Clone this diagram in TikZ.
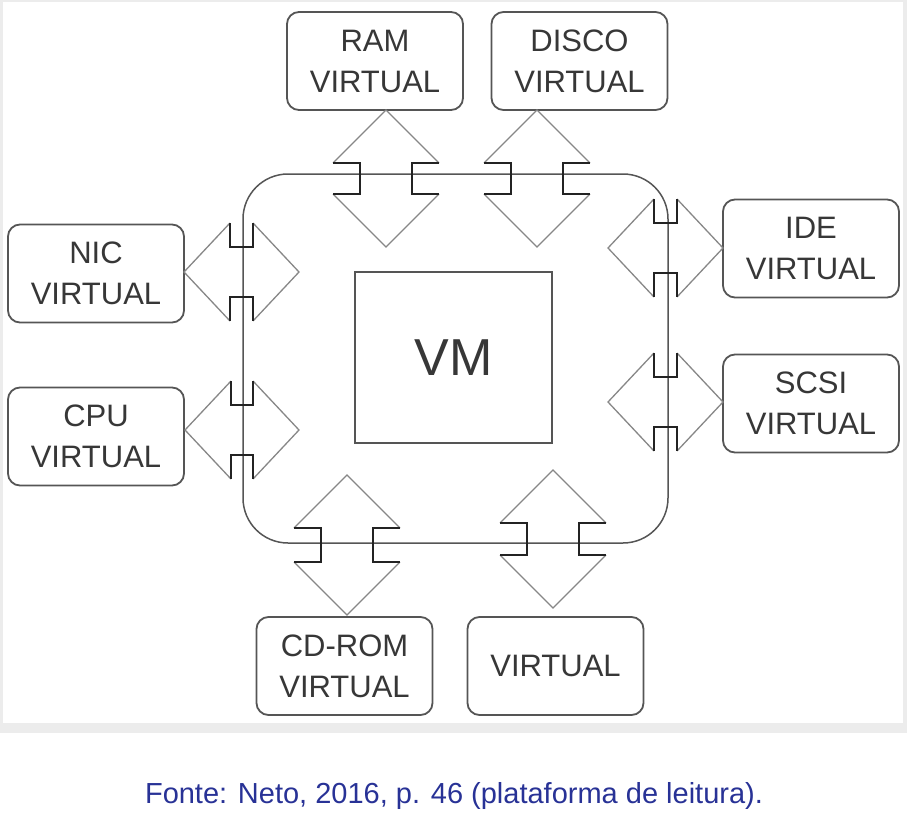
\documentclass[tikz,border=0pt]{standalone}
\usepackage{fontspec}
\setmainfont{Liberation Sans}
\usetikzlibrary{calc}

\definecolor{boxgray}{RGB}{85,85,85}
\definecolor{txtgray}{RGB}{55,55,55}
\definecolor{headgray}{RGB}{135,135,135}
\definecolor{notchgray}{RGB}{35,35,35}
\definecolor{capblue}{RGB}{40,50,150}
\definecolor{framegray}{RGB}{236,236,236}

\tikzset{
  devbox/.style={draw=boxgray, line width=1.8pt, rounded corners=12pt,
    minimum width=176pt, minimum height=98pt, inner sep=0pt, align=center,
    text=txtgray, font=\fontsize{31}{41}\selectfont},
  headline/.style={draw=headgray, line width=1.3pt},
  notchline/.style={draw=notchgray, line width=1.8pt},
  busline/.style={draw=boxgray, line width=1.5pt, rounded corners=45pt}
}

% vertical double arrow: top tip #1, bottom tip #2
\newcommand{\vlink}[2]{%
  \draw[headline] ($(#1)+(-53,53)$) -- (#1) -- ($(#1)+(53,53)$);
  \draw[headline] ($(#2)+(-53,-53)$) -- (#2) -- ($(#2)+(53,-53)$);
  \draw[notchline] ($(#1)+(-53,53)$) -- ($(#1)+(-26,53)$) -- ($(#2)+(-26,-53)$) -- ($(#2)+(-53,-53)$);
  \draw[notchline] ($(#1)+(53,53)$) -- ($(#1)+(26,53)$) -- ($(#2)+(26,-53)$) -- ($(#2)+(53,-53)$);
}

% horizontal double arrow: left tip #1, right tip #2
\newcommand{\hlink}[2]{%
  \draw[headline] ($(#1)+(46,-49)$) -- (#1) -- ($(#1)+(46,49)$);
  \draw[headline] ($(#2)+(-46,-49)$) -- (#2) -- ($(#2)+(-46,49)$);
  \draw[notchline] ($(#1)+(46,-49)$) -- ($(#1)+(46,-25)$) -- ($(#2)+(-46,-25)$) -- ($(#2)+(-46,-49)$);
  \draw[notchline] ($(#1)+(46,49)$) -- ($(#1)+(46,25)$) -- ($(#2)+(-46,25)$) -- ($(#2)+(-46,49)$);
}

\begin{document}
\begin{tikzpicture}[x=1pt,y=-1pt]
    \useasboundingbox (0,0) rectangle (908,816);
    \fill[framegray] (0,0) rectangle (907,733);
    \fill[white] (3,2) rectangle (903,723);

    % bus round the VM
    \draw[busline] (243,174) rectangle (668,543);

    \node[draw=boxgray, line width=1.5pt, minimum width=197pt, minimum height=171pt,
      inner sep=0pt, text=txtgray, font=\fontsize{52}{60}\selectfont] (vm) at (453.5,357.5) {VM};

    % devices
    \node[devbox] (ram) at (375,61) {RAM\\VIRTUAL};
    \node[devbox] (disco) at (579.5,61) {DISCO\\VIRTUAL};
    \node[devbox] (nic) at (96,273.5) {NIC\\VIRTUAL};
    \node[devbox] (cpu) at (96,436.5) {CPU\\VIRTUAL};
    \node[devbox] (ide) at (811,248.5) {IDE\\VIRTUAL};
    \node[devbox] (scsi) at (811,403.5) {SCSI\\VIRTUAL};
    \node[devbox] (cdrom) at (344.5,666) {CD-ROM\\VIRTUAL};
    \node[devbox] (virt) at (555.5,666) {VIRTUAL};

    % arrow tips
    \coordinate (ramT) at (386,110);
    \coordinate (ramB) at (386,247);
    \coordinate (discoT) at (537,110);
    \coordinate (discoB) at (537,247);
    \coordinate (nicL) at (184,272);
    \coordinate (nicR) at (299,272);
    \coordinate (cpuL) at (185,430);
    \coordinate (cpuR) at (299,430);
    \coordinate (ideL) at (608,248);
    \coordinate (ideR) at (723,248);
    \coordinate (scsiL) at (608,402);
    \coordinate (scsiR) at (723,402);
    \coordinate (cdromT) at (347,475);
    \coordinate (cdromB) at (347,615);
    \coordinate (virtT) at (553,470);
    \coordinate (virtB) at (553,608);

    \vlink{ramT}{ramB}
    \vlink{discoT}{discoB}
    \hlink{nicL}{nicR}
    \hlink{cpuL}{cpuR}
    \hlink{ideL}{ideR}
    \hlink{scsiL}{scsiR}
    \vlink{cdromT}{cdromB}
    \vlink{virtT}{virtB}

    % source line
    \node[anchor=base, text=capblue, font=\fontsize{29}{35}\selectfont] (src) at (454,803)
      {Fonte: Neto, 2016, p. 46 (plataforma de leitura).};
\end{tikzpicture}
\end{document}
